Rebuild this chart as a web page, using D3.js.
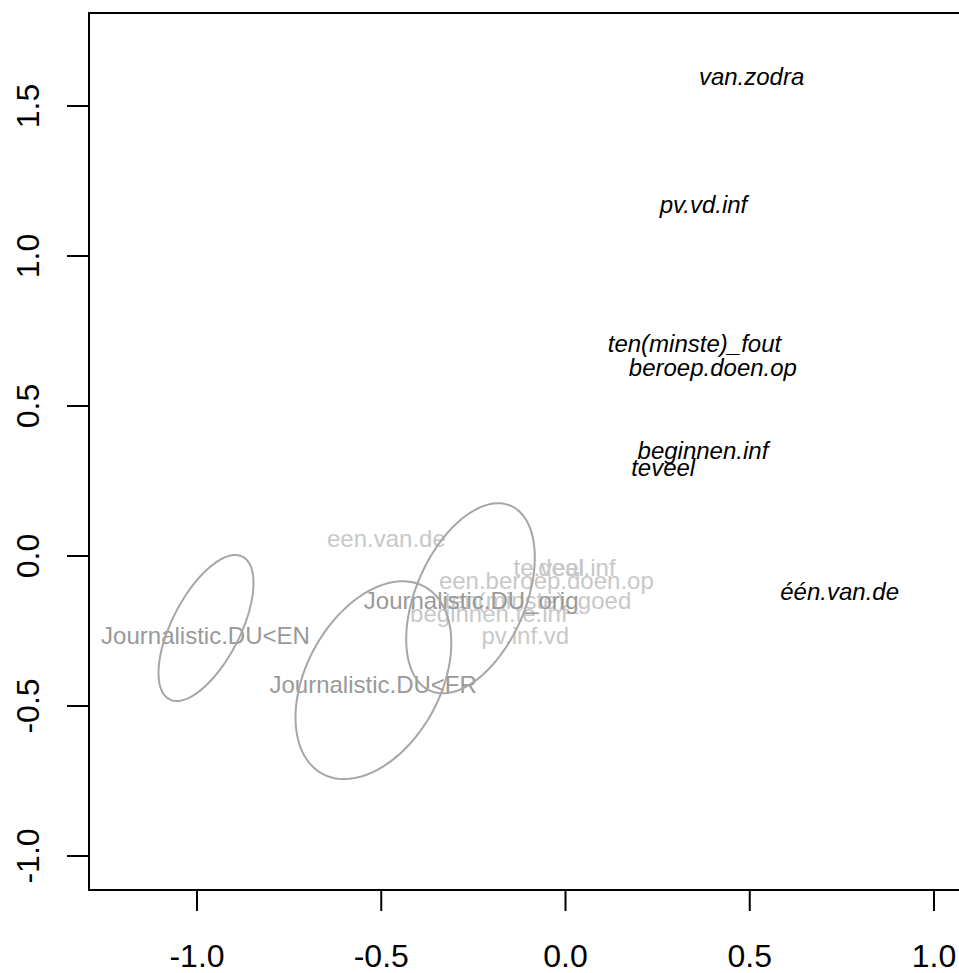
<!DOCTYPE html>
<html>
<head>
<meta charset="utf-8">
<script src="https://cdn.jsdelivr.net/npm/d3@7"></script>
<style>
  html, body { margin: 0; padding: 0; background: #fff; }
  svg { display: block; }
  text { font-family: "Liberation Sans", Arial, sans-serif; }
</style>
</head>
<body>
<script>
// ---- data ----
const xTicks = [-1.0, -0.5, 0.0, 0.5, 1.0];
const yTicks = [-1.0, -0.5, 0.0, 0.5, 1.0, 1.5];

const blackLabels = ["van.zodra", "pv.vd.inf", "ten(minste)_fout", "beroep.doen.op", "beginnen.inf", "teveel", "één.van.de"];
const blackX = [0.505, 0.3745, 0.350, 0.400, 0.373, 0.265, 0.744];
const blackY = [1.598, 1.170, 0.708, 0.628, 0.351, 0.295, -0.117];

const greyLabels = ["een.van.de", "een.beroep.doen.op", "te.veel", "deal.inf", "ten(minste)_goed", "beginnen.te.inf", "pv.inf.vd"];
const greyX = [-0.486, -0.052, -0.045, 0.031, -0.075, -0.208, -0.109];
const greyY = [0.058, -0.082, -0.038, -0.038, -0.149, -0.192, -0.265];

const groupLabels = ["Journalistic.DU<EN", "Journalistic.DU<FR", "Journalistic.DU_orig"];
const groupX = [-0.977, -0.522, -0.256];
const groupY = [-0.265, -0.429, -0.149];

// confidence ellipses: centre, spread (sd-like radii) and correlation
const ellCX = [-0.9756, -0.5213, -0.2578];
const ellCY = [-0.240, -0.414, -0.141];
const ellSX = [0.1289, 0.2114, 0.1745];
const ellSY = [0.2433, 0.3297, 0.3167];
const ellR  = [0.616, 0.376, 0.43];

// ---- layout ----
const W = 959, H = 973;
const x = d3.scaleLinear().domain([-1, 1]).range([197, 934]);
const y = d3.scaleLinear().domain([-1, 1.5]).range([856, 106]);
const plotLeft = 89, plotTop = 13, plotBottom = 890, plotRight = 1030;

const svg = d3.select("body").append("svg").attr("width", W).attr("height", H);

// frame
svg.append("rect")
  .attr("x", plotLeft).attr("y", plotTop)
  .attr("width", plotRight - plotLeft).attr("height", plotBottom - plotTop)
  .attr("fill", "none").attr("stroke", "#000").attr("stroke-width", 2);

// x axis
const xAxis = svg.append("g");
xAxis.selectAll("line").data(xTicks).join("line")
  .attr("x1", d => x(d)).attr("x2", d => x(d))
  .attr("y1", plotBottom).attr("y2", plotBottom + 21)
  .attr("stroke", "#000").attr("stroke-width", 2);
xAxis.selectAll("text").data(xTicks).join("text")
  .attr("x", d => x(d)).attr("y", 967)
  .attr("text-anchor", "middle").attr("font-size", 32)
  .text(d => d3.format(".1f")(d).replace("−", "-"));

// y axis
const yAxis = svg.append("g");
yAxis.selectAll("line").data(yTicks).join("line")
  .attr("x1", plotLeft - 22).attr("x2", plotLeft)
  .attr("y1", d => y(d)).attr("y2", d => y(d))
  .attr("stroke", "#000").attr("stroke-width", 2);
yAxis.selectAll("text").data(yTicks).join("text")
  .attr("transform", d => `translate(39,${y(d)}) rotate(-90)`)
  .attr("text-anchor", "middle").attr("font-size", 32)
  .text(d => d3.format(".1f")(d).replace("−", "-"));

// grey level labels
svg.append("g").selectAll("text").data(greyLabels).join("text")
  .attr("x", (d, i) => x(greyX[i])).attr("y", (d, i) => y(greyY[i]))
  .attr("dy", "0.35em").attr("text-anchor", "middle")
  .attr("font-size", 24).attr("fill", "#c8c8c8")
  .text(d => d);

// black italic labels
svg.append("g").selectAll("text").data(blackLabels).join("text")
  .attr("x", (d, i) => x(blackX[i])).attr("y", (d, i) => y(blackY[i]))
  .attr("dy", "0.35em").attr("text-anchor", "middle")
  .attr("font-size", 24).attr("font-style", "italic").attr("fill", "#000")
  .text(d => d);

// group labels
svg.append("g").selectAll("text").data(groupLabels).join("text")
  .attr("x", (d, i) => x(groupX[i])).attr("y", (d, i) => y(groupY[i]))
  .attr("dy", "0.35em").attr("text-anchor", "middle")
  .attr("font-size", 24).attr("fill", "#999999")
  .text(d => d);

// ellipses
const line = d3.line().x(p => x(p[0])).y(p => y(p[1])).curve(d3.curveLinearClosed);
const nSeg = 120;
ellCX.forEach((cx, k) => {
  const pts = d3.range(nSeg).map(j => {
    const t = 2 * Math.PI * j / nSeg;
    const r = ellR[k];
    return [cx + ellSX[k] * Math.cos(t),
            ellCY[k] + ellSY[k] * (r * Math.cos(t) + Math.sqrt(1 - r * r) * Math.sin(t))];
  });
  svg.append("path").attr("d", line(pts))
    .attr("fill", "none").attr("stroke", "#a6a6a6").attr("stroke-width", 2);
});
</script>
</body>
</html>
